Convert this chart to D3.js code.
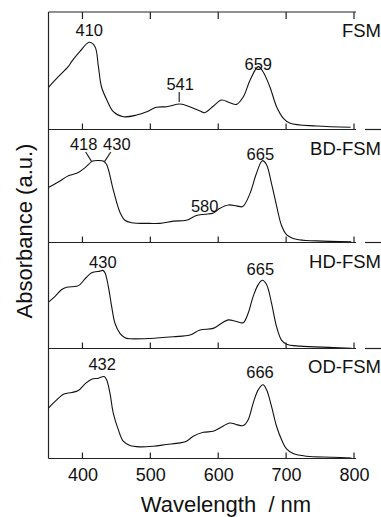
<!DOCTYPE html>
<html>
<head>
<meta charset="utf-8">
<script src="https://cdn.jsdelivr.net/npm/d3@7"></script>
<style>
  body { margin: 0; background: #fff; }
  svg { display: block; font-family: "Liberation Sans", Arial, sans-serif; }
  .frame { stroke: #222; stroke-width: 1.2; fill: none; }
  .spectrum { stroke: #111; stroke-width: 1.1; fill: none; }
  .peak { font-size: 16.5px; fill: #111; text-anchor: middle; }
  .name { font-size: 18.5px; fill: #111; text-anchor: end; }
</style>
</head>
<body>
<svg id="chart"></svg>
<script>
// tick labels of the wavelength axis
const xTicks = [400, 500, 600, 700, 800];

// spectra: wavelength (nm) and relative absorbance (a.u.)
const fsmNm  = [350, 364.5, 379, 384, 396, 410, 418.5, 423.5, 428, 436, 445.5, 460, 480, 495, 509, 524, 544, 558, 573, 580, 593, 605, 617, 627, 637, 647, 659, 666, 676, 686, 696, 706, 745, 795];
const fsmAbs = [0.359, 0.449, 0.535, 0.577, 0.662, 0.742, 0.705, 0.535, 0.364, 0.251, 0.152, 0.109, 0.123, 0.152, 0.189, 0.194, 0.217, 0.194, 0.157, 0.143, 0.2, 0.251, 0.228, 0.214, 0.279, 0.421, 0.535, 0.492, 0.364, 0.194, 0.095, 0.053, 0.03, 0.019];

const bdNm  = [350, 364.5, 377, 384, 394, 404, 414, 418, 423, 430.5, 435.6, 445.4, 455.2, 462.6, 472.4, 499, 514, 534, 553, 568, 580, 593, 602, 615, 627, 636, 647, 656, 665, 671, 678.5, 686, 693, 700.6, 715, 745, 796];
const bdAbs = [0.487, 0.535, 0.583, 0.6, 0.62, 0.662, 0.718, 0.724, 0.726, 0.722, 0.69, 0.465, 0.268, 0.197, 0.175, 0.169, 0.169, 0.189, 0.197, 0.239, 0.25, 0.262, 0.301, 0.332, 0.324, 0.318, 0.437, 0.606, 0.724, 0.69, 0.521, 0.324, 0.155, 0.07, 0.028, 0.014, 0.006];

const hdNm  = [350, 359.7, 369.5, 376.7, 391.5, 396.4, 403.8, 413.6, 425.8, 430, 433.2, 438.1, 443, 447.9, 455.2, 462.6, 470, 499.4, 533.7, 558.3, 573, 592.6, 604.9, 614.7, 627, 636.8, 644.1, 651.5, 658.9, 665, 671.2, 678.5, 685.9, 693.2, 700.6, 720.2, 769.3, 796.3];
const hdAbs = [0.438, 0.492, 0.556, 0.578, 0.587, 0.603, 0.657, 0.714, 0.73, 0.737, 0.714, 0.587, 0.397, 0.238, 0.143, 0.102, 0.092, 0.095, 0.111, 0.127, 0.175, 0.19, 0.238, 0.27, 0.254, 0.244, 0.333, 0.492, 0.603, 0.644, 0.603, 0.429, 0.206, 0.079, 0.041, 0.022, 0.01, 0.003];

const odNm  = [350, 359.7, 372, 384.1, 393.9, 403.8, 413.6, 423.4, 432, 435.6, 440.5, 445.4, 452.8, 460.1, 470, 484.7, 504.3, 523.9, 543.5, 553.4, 563.2, 577.9, 592.6, 602.4, 617.1, 627, 636.8, 644.1, 651.5, 658.9, 666, 671.2, 678.5, 685.9, 693.2, 700.6, 710.4, 730, 769.3, 796.3];
const odAbs = [0.459, 0.519, 0.585, 0.6, 0.618, 0.679, 0.721, 0.73, 0.745, 0.715, 0.594, 0.413, 0.262, 0.157, 0.118, 0.106, 0.112, 0.127, 0.142, 0.157, 0.202, 0.238, 0.247, 0.278, 0.323, 0.308, 0.299, 0.353, 0.504, 0.624, 0.67, 0.624, 0.474, 0.293, 0.172, 0.087, 0.045, 0.021, 0.012, 0.003];

// sample names and peak annotations
const sampleNames = ['FSM', 'BD-FSM', 'HD-FSM', 'OD-FSM'];
const peakLabels = [
  [{ t: '410', nm: 410 }, { t: '541', nm: 544 }, { t: '659', nm: 659 }],
  [{ t: '418', nm: 418 }, { t: '430', nm: 430 }, { t: '580', nm: 580 }, { t: '665', nm: 665 }],
  [{ t: '430', nm: 430 }, { t: '665', nm: 665 }],
  [{ t: '432', nm: 432 }, { t: '666', nm: 666 }]
];

const W = 381, H = 517;
const svg = d3.select('#chart').attr('width', W).attr('height', H);

const x = d3.scaleLinear().domain([350, 800]).range([48.5, 354]);

// panel edges (top of each panel, last one is the bottom axis)
const edges = [12, 129.5, 242.5, 348.5, 458.5];
const spectra = [[fsmNm, fsmAbs], [bdNm, bdAbs], [hdNm, hdAbs], [odNm, odAbs]];

// label placement, offsets relative to the peak position
const labelPos = [
  [{ dx: 0, y: 36 }, { dx: 0, y: 90, lead: [92, 102] }, { dx: 0, y: 70 }],
  [{ dx: -11, y: 150, lead: [-9, 152, -3] }, { dx: 14, y: 150, lead: [8, 152, 1.5] }, { dx: 0, y: 212 }, { dx: -2, y: 160 }],
  [{ dx: 0, y: 268 }, { dx: -2, y: 275 }],
  [{ dx: -2, y: 370 }, { dx: -3, y: 378 }]
];
const namePos = [36.5, 155, 268, 373];

const line = d3.line().curve(d3.curveCatmullRom.alpha(0.5));

spectra.forEach(([nm, abs], i) => {
  const y = d3.scaleLinear().domain([0, 1]).range([edges[i + 1], edges[i]]);
  svg.append('path')
    .attr('class', 'spectrum')
    .attr('d', line(nm.map((d, j) => [x(d), y(abs[j])])));

  // bottom edge of each panel with inward ticks
  svg.append('line').attr('class', 'frame')
    .attr('x1', 48.5).attr('x2', 356)
    .attr('y1', edges[i + 1]).attr('y2', edges[i + 1]);
  if (i < 3) {
    svg.append('line').attr('class', 'frame')
      .attr('x1', 365).attr('x2', W)
      .attr('y1', edges[i + 1]).attr('y2', edges[i + 1]);
  }
  svg.selectAll(null).data(xTicks).enter().append('line')
    .attr('class', 'frame')
    .attr('x1', d => x(d)).attr('x2', d => x(d))
    .attr('y1', edges[i + 1]).attr('y2', edges[i + 1] - 6);

  // peak labels
  peakLabels[i].forEach((p, k) => {
    const pos = labelPos[i][k];
    svg.append('text').attr('class', 'peak')
      .attr('x', x(p.nm) + pos.dx).attr('y', pos.y).text(p.t);
    if (pos.lead && pos.lead.length === 2) {
      // straight tick below the label
      svg.append('line').attr('class', 'frame').attr('stroke-width', 1)
        .attr('x1', x(p.nm) - 1).attr('x2', x(p.nm) - 1)
        .attr('y1', pos.lead[0]).attr('y2', pos.lead[1]);
    } else if (pos.lead) {
      // slanted leader down to the shoulder on the curve
      const j = nm.indexOf(p.nm === 430 ? 430.5 : p.nm);
      svg.append('line').attr('class', 'frame').attr('stroke-width', 1)
        .attr('x1', x(p.nm) + pos.lead[0]).attr('y1', pos.lead[1])
        .attr('x2', x(p.nm) + pos.lead[2]).attr('y2', y(abs[j]) + 1);
    }
  });

  svg.append('text').attr('class', 'name')
    .attr('x', 381).attr('y', namePos[i]).text(sampleNames[i]);
});

// top frame with downward ticks
svg.append('line').attr('class', 'frame')
  .attr('x1', 48.5).attr('x2', 356).attr('y1', edges[0]).attr('y2', edges[0]);
svg.selectAll(null).data(xTicks).enter().append('line')
  .attr('class', 'frame')
  .attr('x1', d => x(d)).attr('x2', d => x(d))
  .attr('y1', edges[0]).attr('y2', edges[0] + 7);

// left frame
svg.append('line').attr('class', 'frame')
  .attr('x1', 48.5).attr('x2', 48.5).attr('y1', edges[0]).attr('y2', edges[4]);

// wavelength tick labels
svg.append('g')
  .attr('transform', `translate(0,${edges[4]})`)
  .call(d3.axisBottom(x).tickValues(xTicks).tickSize(0).tickPadding(10))
  .call(g => g.select('.domain').remove())
  .selectAll('text')
  .attr('font-size', 18)
  .attr('font-family', '"Liberation Sans", Arial, sans-serif')
  .attr('fill', '#111');

// axis titles
svg.append('text')
  .attr('x', 226).attr('y', 512)
  .attr('text-anchor', 'middle')
  .attr('font-size', 22)
  .attr('fill', '#111')
  .style('white-space', 'pre')
  .text('Wavelength  / nm');

svg.append('text')
  .attr('transform', 'translate(32,231) rotate(-90)')
  .attr('text-anchor', 'middle')
  .attr('font-size', 22)
  .attr('fill', '#111')
  .text('Absorbance (a.u.)');
</script>
</body>
</html>
